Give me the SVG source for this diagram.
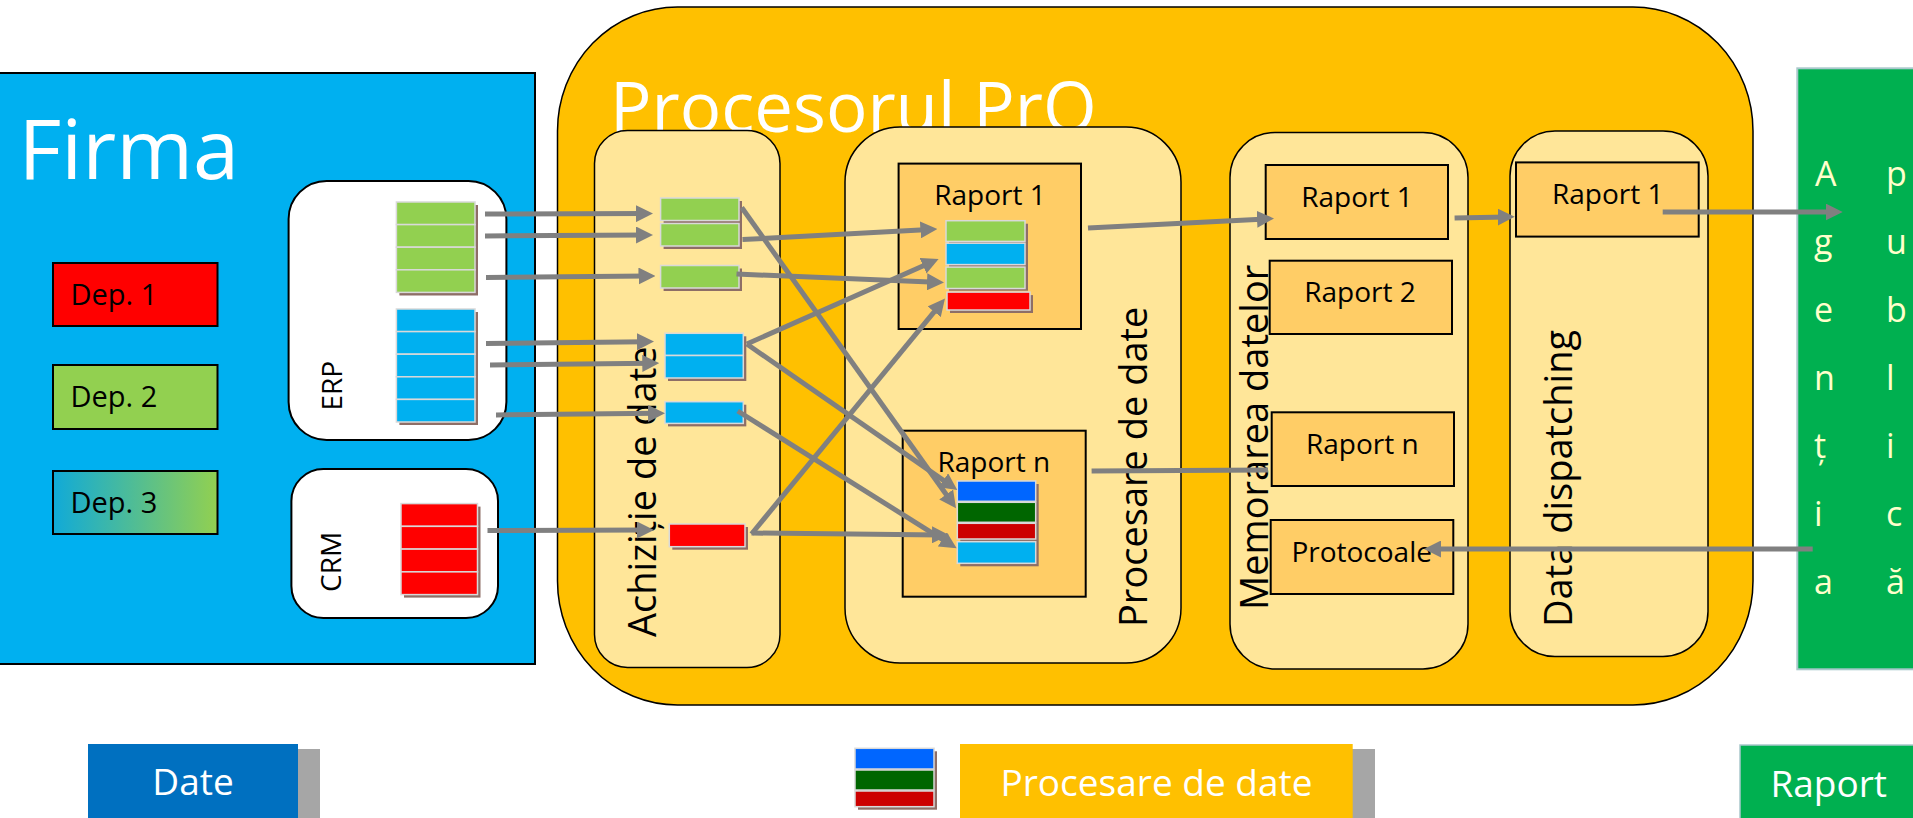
<svg xmlns="http://www.w3.org/2000/svg" width="1913" height="818" viewBox="0 0 1913 818">
<defs>
<style>
.t{font-family:"Open Sans","Noto Sans",sans-serif}
.w{fill:#FFFFFF}
.k{fill:#000000}
.l28{font-size:28px}
.v38{font-size:38px}
.leg{font-size:37px}
.ag{font-size:34px;fill:#FFFFCC}
.col{fill:#FFE699;stroke:#000;stroke-width:1.5}
.rb{fill:#FFCD66;stroke:#000;stroke-width:2}
.row{stroke:#D9D9D9;stroke-width:1.5}
.sh{fill:#8E6E66}
.g{fill:#92D050}.b{fill:#00B0F0}.r{fill:#FF0000}
.db{fill:#0066FF}.dg{fill:#006600}.dr{fill:#CC0000}
.conn{stroke:#808080;stroke-width:5;fill:none}
.arr{marker-end:url(#ah)}
.lsh{fill:#A6A6A6}
</style>
<marker id="ah" markerUnits="userSpaceOnUse" markerWidth="17" markerHeight="17" viewBox="0 0 17 17" refX="9" refY="8.5" orient="auto">
<path d="M0,0 L17,8.5 L0,17 z" fill="#808080"/>
</marker>
<linearGradient id="dep3" x1="0" y1="0" x2="1" y2="0">
<stop offset="0" stop-color="#10AAD8"/>
<stop offset="1" stop-color="#92D050"/>
</linearGradient>
</defs>

<!-- Firma -->
<g id="firma">
<rect x="-2" y="73" width="537" height="591" fill="#00B0F0" stroke="#000" stroke-width="2"/>
<text class="t w" x="18.5" y="179" font-size="83">Firma</text>
</g>
<g id="dep1">
<rect x="53" y="263" width="164.5" height="63" fill="#FF0000" stroke="#000" stroke-width="2"/>
<text class="t k" x="70.5" y="305" font-size="29">Dep. 1</text>
</g>
<g id="dep2">
<rect x="53" y="365" width="164.5" height="64" fill="#92D050" stroke="#000" stroke-width="2"/>
<text class="t k" x="70.5" y="407" font-size="29">Dep. 2</text>
</g>
<g id="dep3n">
<rect x="53" y="471" width="164.5" height="63" fill="url(#dep3)" stroke="#000" stroke-width="2"/>
<text class="t k" x="70.5" y="513" font-size="29">Dep. 3</text>
</g>
<g id="erp">
<rect x="288.6" y="181" width="217.8" height="259" rx="38" fill="#FFFFFF" stroke="#000" stroke-width="2"/>
<text class="t k l28" transform="translate(342,410.5) rotate(-90)">ERP</text>
<rect class="sh" x="399.4" y="205" width="78.6" height="90.5"/>
<rect class="row g" x="396.4" y="202" width="78.6" height="22.6"/>
<rect class="row g" x="396.4" y="224.6" width="78.6" height="22.6"/>
<rect class="row g" x="396.4" y="247.2" width="78.6" height="22.6"/>
<rect class="row g" x="396.4" y="269.8" width="78.6" height="22.6"/>
<rect class="sh" x="399.4" y="312" width="78.6" height="113"/>
<rect class="row b" x="396.4" y="309" width="78.6" height="22.6"/>
<rect class="row b" x="396.4" y="331.6" width="78.6" height="22.6"/>
<rect class="row b" x="396.4" y="354.2" width="78.6" height="22.6"/>
<rect class="row b" x="396.4" y="376.8" width="78.6" height="22.6"/>
<rect class="row b" x="396.4" y="399.4" width="78.6" height="22.6"/>
</g>
<g id="crm">
<rect x="291.4" y="469" width="206.6" height="149" rx="32" fill="#FFFFFF" stroke="#000" stroke-width="2"/>
<text class="t k l28" transform="translate(341,592) rotate(-90)">CRM</text>
<rect class="sh" x="404" y="506.6" width="76.5" height="91"/>
<rect class="row r" x="401" y="503.6" width="76.5" height="22.75"/>
<rect class="row r" x="401" y="526.35" width="76.5" height="22.75"/>
<rect class="row r" x="401" y="549.1" width="76.5" height="22.75"/>
<rect class="row r" x="401" y="571.85" width="76.5" height="22.75"/>
</g>

<!-- Procesorul PrO -->
<g id="procesor">
<rect x="557.5" y="7" width="1195.5" height="698" rx="120" ry="124" fill="#FFC000" stroke="#000" stroke-width="1.5"/>
<text class="t w" x="610" y="132" font-size="69">Procesorul PrO</text>
</g>

<g id="achizitie">
<rect class="col" x="594.5" y="130.5" width="185.5" height="537" rx="33"/>
<text class="t k v38" transform="translate(656,637) rotate(-90)">Achiziție de date</text>
<rect class="sh" x="663.6" y="201" width="78.4" height="48"/>
<rect class="row g" x="660.6" y="198" width="78.4" height="22.5"/>
<rect class="row g" x="660.6" y="223.5" width="78.4" height="22.5"/>
<rect class="sh" x="663.6" y="268.5" width="78.4" height="22.5"/>
<rect class="row g" x="660.6" y="265.5" width="78.4" height="22.5"/>
<rect class="sh" x="668" y="336.3" width="78.3" height="44.7"/>
<rect class="row b" x="665" y="333.3" width="78.3" height="22.2"/>
<rect class="row b" x="665" y="355.5" width="78.3" height="22.5"/>
<rect class="sh" x="668" y="404.7" width="78.3" height="21.7"/>
<rect class="row b" x="665" y="401.7" width="78.3" height="21.7"/>
<rect class="sh" x="672.3" y="527" width="75.7" height="22.7"/>
<rect class="row r" x="669.3" y="524" width="75.7" height="22.7"/>
</g>

<g id="procesare">
<rect class="col" x="845" y="127" width="336" height="536" rx="55"/>
<text class="t k v38" transform="translate(1147,627) rotate(-90)">Procesare de date</text>
</g>
<g id="p-raport1">
<rect class="rb" x="898.6" y="163.6" width="182.4" height="165.4"/>
<text class="t k l28" x="990" y="204.5" text-anchor="middle">Raport 1</text>
<rect class="sh" x="949" y="223.7" width="79" height="67"/>
<rect class="sh" x="950" y="295.1" width="83" height="17.9"/>
<rect class="row g" x="946" y="220.7" width="79" height="20.7"/>
<rect class="row b" x="946" y="243.2" width="79" height="21.4"/>
<rect class="row g" x="946" y="267.1" width="79" height="21.4"/>
<rect class="row r" x="947" y="292.1" width="83" height="17.9"/>
</g>
<g id="p-raportn">
<rect class="rb" x="902.7" y="430.7" width="183" height="166"/>
<text class="t k l28" x="993.8" y="471.7" text-anchor="middle">Raport n</text>
<rect class="sh" x="960.3" y="484" width="78.4" height="82.3"/>
<rect class="row db" x="957.3" y="481" width="78.4" height="20.3"/>
<rect class="row dg" x="957.3" y="502.3" width="78.4" height="20"/>
<rect class="row dr" x="957.3" y="523.3" width="78.4" height="15.7"/>
<rect class="row b" x="957.3" y="541.7" width="78.4" height="21.6"/>
</g>

<g id="memorare">
<rect class="col" x="1230" y="132.5" width="238" height="536.5" rx="45"/>
<text class="t k v38" transform="translate(1268,610) rotate(-90)">Memorarea datelor</text>
</g>
<g id="m-raport1">
<rect class="rb" x="1265.7" y="165" width="182.3" height="74"/>
<text class="t k l28" x="1357" y="207" text-anchor="middle">Raport 1</text>
</g>
<g id="m-raport2">
<rect class="rb" x="1269.7" y="260.7" width="182.3" height="73.3"/>
<text class="t k l28" x="1360" y="302" text-anchor="middle">Raport 2</text>
</g>
<g id="m-raportn">
<rect class="rb" x="1271.7" y="412.3" width="182.3" height="73.7"/>
<text class="t k l28" x="1362.3" y="453.5" text-anchor="middle">Raport n</text>
</g>
<g id="m-protocoale">
<rect class="rb" x="1270.7" y="520" width="182.6" height="74"/>
<text class="t k l28" x="1361.7" y="561.7" text-anchor="middle">Protocoale</text>
</g>

<g id="dispatching">
<rect class="col" x="1510" y="131" width="198" height="525.5" rx="45"/>
<text class="t k v38" transform="translate(1572,627) rotate(-90)">Data dispatching</text>
</g>
<g id="d-raport1">
<rect class="rb" x="1516" y="162.4" width="182.7" height="74.2"/>
<text class="t k l28" x="1607.7" y="204" text-anchor="middle">Raport 1</text>
</g>

<g id="agentia">
<rect x="1797.3" y="68.3" width="130" height="601" fill="#00B050" stroke="#A9C8CB" stroke-width="2"/>
<text class="t ag" x="1815" y="186">A</text>
<text class="t ag" x="1814" y="254">g</text>
<text class="t ag" x="1814" y="322">e</text>
<text class="t ag" x="1814" y="390">n</text>
<text class="t ag" x="1814" y="458">ț</text>
<text class="t ag" x="1814" y="526">i</text>
<text class="t ag" x="1814" y="594">a</text>
<text class="t ag" x="1886" y="186">p</text>
<text class="t ag" x="1886" y="254">u</text>
<text class="t ag" x="1886" y="322">b</text>
<text class="t ag" x="1886" y="390">l</text>
<text class="t ag" x="1886" y="458">i</text>
<text class="t ag" x="1886" y="526">c</text>
<text class="t ag" x="1886" y="594">ă</text>
</g>

<!-- Legend -->
<g id="leg-date">
<rect class="lsh" x="110" y="749" width="210" height="73"/>
<rect x="88" y="744" width="210" height="74" fill="#0070C0"/>
<text class="t w leg" x="193" y="795" text-anchor="middle">Date</text>
</g>
<g id="leg-stack">
<rect class="sh" x="858" y="751.3" width="79" height="58.4"/>
<rect class="row db" x="855" y="748.3" width="79" height="20.7"/>
<rect class="row dg" x="855" y="770" width="79" height="20"/>
<rect class="row dr" x="855" y="791" width="79" height="15.7"/>
</g>
<g id="leg-procesare">
<rect class="lsh" x="982" y="749" width="393" height="73"/>
<rect x="960" y="744" width="392.7" height="74" fill="#FFC000"/>
<text class="t w leg" x="1156.5" y="796" text-anchor="middle">Procesare de date</text>
</g>
<g id="leg-raport">
<rect x="1740" y="745" width="190" height="80" fill="#00B050" stroke="#A9C8CB" stroke-width="1.5"/>
<text class="t w leg" x="1828.7" y="796.7" text-anchor="middle">Raport</text>
</g>

<!-- Connectors -->
<g id="connectors">
<path class="conn arr" d="M485,214 L645,213.6"/>
<path class="conn arr" d="M485,236 L645,235"/>
<path class="conn arr" d="M486,277.5 L647.5,276"/>
<path class="conn arr" d="M486,343.5 L646,341.7"/>
<path class="conn arr" d="M490,365 L651.3,363.3"/>
<path class="conn arr" d="M496,415 L657,413.3"/>
<path class="conn arr" d="M487.5,530.5 L646,530"/>
<path class="conn arr" d="M741.7,207.5 L951.4,501.8"/>
<path class="conn arr" d="M742.5,239.6 L929.4,229.4"/>
<path class="conn arr" d="M736.5,274 L936,282.2"/>
<path class="conn arr" d="M746.8,344 L931.3,262.2"/>
<path class="conn arr" d="M746.8,344 L950.7,485.4"/>
<path class="conn arr" d="M737.7,411 L949.9,544.1"/>
<path class="conn arr" d="M751.5,534 L939.9,304.8"/>
<path class="conn arr" d="M751.5,533 L941,534.9"/>
<path class="conn arr" d="M1088,228 L1266,218.9"/>
<path class="conn" d="M1091.6,471 L1268,470"/>
<path class="conn arr" d="M1454.6,218 L1506.7,216.9"/>
<path class="conn arr" d="M1662.7,212 L1834.7,212"/>
<path class="conn arr" d="M1812.7,549 L1432,549"/>
</g>
</svg>
